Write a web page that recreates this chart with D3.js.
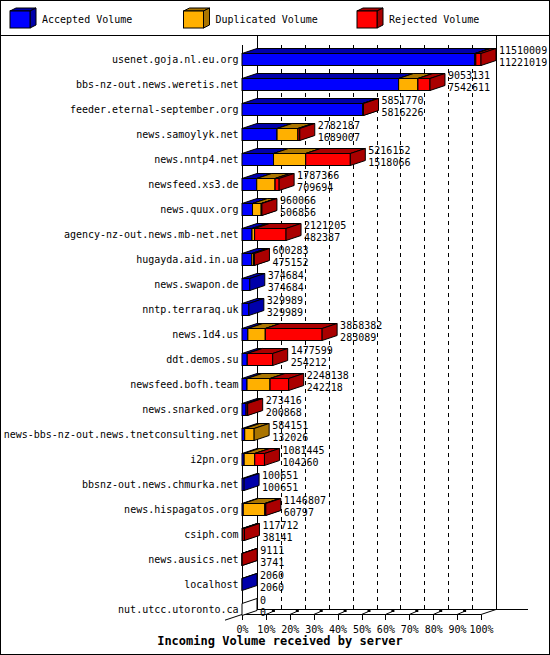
<!DOCTYPE html>
<html>
<head>
<meta charset="utf-8">
<script src="https://cdn.jsdelivr.net/npm/d3@7"></script>
<style>
body { margin: 0; background: #fff; }
text { font-family: "DejaVu Sans Mono", monospace; font-size: 10px; fill: #000; }
</style>
</head>
<body>
<svg id="chart" width="550" height="655"></svg>
<script>
// servers and the two numbers printed next to each bar (total / accepted)
var servers = ["usenet.goja.nl.eu.org", "bbs-nz-out.news.weretis.net", "feeder.eternal-september.org",
    "news.samoylyk.net", "news.nntp4.net", "newsfeed.xs3.de", "news.quux.org",
    "agency-nz-out.news.mb-net.net", "hugayda.aid.in.ua", "news.swapon.de", "nntp.terraraq.uk",
    "news.1d4.us", "ddt.demos.su", "newsfeed.bofh.team", "news.snarked.org",
    "news-bbs-nz-out.news.tnetconsulting.net", "i2pn.org", "bbsnz-out.news.chmurka.net",
    "news.hispagatos.org", "csiph.com", "news.ausics.net", "localhost", "nut.utcc.utoronto.ca"];
var totals = [11510009, 9053131, 5851770, 2782187, 5216152, 1787366, 960066, 2121205, 600283,
    374684, 329989, 3858382, 1477599, 2248138, 273416, 584151, 1081445, 100651, 1146807,
    117712, 9111, 2060, 0];
var accepted = [11221019, 7542611, 5816226, 1689007, 1518066, 709694, 506856, 482387, 475152,
    374684, 329989, 283089, 254212, 242218, 200868, 132026, 104260, 100651, 60797,
    38141, 3741, 2060, 0];
// split of the rest
var duplicated = [40000, 930000, 0, 1007000, 1550000, 885000, 420000, 125000, 80000,
    0, 0, 840000, 0, 1110000, 0, 452125, 510000, 0, 1040000, 0, 0, 0, 0];
var rejected = [248990, 580520, 35544, 86180, 2148086, 192672, 33210, 1513818, 45131,
    0, 0, 2735293, 1223387, 895920, 72548, 0, 467185, 0, 46010, 79571, 5370, 0, 0];

var seriesNames = ["Accepted Volume", "Duplicated Volume", "Rejected Volume"];
var frontColors = ["#0000ff", "#ffb000", "#ff0000"];
var darkColors = ["#0000aa", "#aa7500", "#aa0000"];
var tickPct = [0, 10, 20, 30, 40, 50, 60, 70, 80, 90, 100];

var svg = d3.select("#chart");
var dx = 15, dy = 5, barH = 12;
var floorY = 614.5;

// frame and legend box
svg.append("rect").attr("x", 0.5).attr("y", 0.5).attr("width", 549).attr("height", 654)
    .attr("fill", "none").attr("stroke", "#000");
svg.append("line").attr("x1", 0).attr("x2", 550).attr("y1", 35.5).attr("y2", 35.5)
    .attr("stroke", "#000");

var legend = svg.append("g").attr("id", "legend");
seriesNames.forEach(function(name, i) {
    var lx = 10 + i * 173.5, ly = 11, w = 20, h = 17, ddx = 6, ddy = 3;
    var g = legend.append("g").attr("stroke", "#000").attr("stroke-width", 1);
    g.append("polygon").attr("fill", darkColors[i])
        .attr("points", [[lx, ly], [lx + ddx, ly - ddy], [lx + w + ddx, ly - ddy], [lx + w, ly]].join(" "));
    g.append("polygon").attr("fill", darkColors[i])
        .attr("points", [[lx + w, ly], [lx + w + ddx, ly - ddy], [lx + w + ddx, ly + h - ddy], [lx + w, ly + h]].join(" "));
    g.append("rect").attr("x", lx).attr("y", ly).attr("width", w).attr("height", h)
        .attr("fill", frontColors[i]);
    legend.append("text").attr("x", lx + 32).attr("y", 23).text(name);
});

// scales: bar length is share of the largest total
var x = d3.scaleLinear().domain([0, d3.max(totals)]).range([242, 481]);
var pct = d3.scaleLinear().domain([0, 100]).range([242, 481]);
var y = d3.scaleBand().domain(servers).range([46.5, 621.5]);

// back wall
var wall = svg.append("g").attr("shape-rendering", "crispEdges");
wall.selectAll(".grid").data(tickPct.slice(1, -1)).enter().append("line")
    .attr("x1", function(d) { return Math.round(pct(d) + dx) + 0.5; })
    .attr("x2", function(d) { return Math.round(pct(d) + dx) + 0.5; })
    .attr("y1", 45).attr("y2", floorY - dy)
    .attr("stroke", "#000").attr("stroke-dasharray", "4,4");
[0, 100].forEach(function(d) {
    wall.append("line").attr("x1", Math.round(pct(d) + dx) + 0.5).attr("x2", Math.round(pct(d) + dx) + 0.5)
        .attr("y1", 36).attr("y2", floorY - dy).attr("stroke", "#000");
});

// floor
var floor = svg.append("g").attr("stroke", "#000");
floor.append("line").attr("x1", pct(0) + dx).attr("y1", floorY - dy).attr("x2", 528).attr("y2", floorY - dy)
    .attr("shape-rendering", "crispEdges");
floor.append("line").attr("x1", pct(0)).attr("y1", floorY).attr("x2", pct(100)).attr("y2", floorY)
    .attr("shape-rendering", "crispEdges");
floor.append("line").attr("x1", pct(100)).attr("y1", floorY).attr("x2", pct(100) + dx).attr("y2", floorY - dy);
floor.append("line").attr("x1", pct(0) + dx).attr("y1", floorY - dy).attr("x2", 225).attr("y2", floorY - dy + 32 / 3);
floor.append("line").attr("x1", pct(0) + 0.5).attr("x2", pct(0) + 0.5).attr("y1", 45).attr("y2", floorY)
    .attr("shape-rendering", "crispEdges");

// x axis
var xAxis = svg.append("g").attr("id", "x_axis")
    .attr("transform", "translate(0," + floorY + ")")
    .call(d3.axisBottom(pct).tickValues(tickPct).tickSize(5).tickPadding(6)
        .tickFormat(function(d) { return d + "%"; }));
xAxis.select(".domain").remove();
xAxis.selectAll("text").style("font-family", "'DejaVu Sans Mono', monospace").style("font-size", "10px");
xAxis.selectAll(".tick line").attr("shape-rendering", "crispEdges");
tickPct.slice(1, -1).forEach(function(d) {
    var tx = pct(d);
    svg.append("line").attr("x1", tx).attr("y1", floorY).attr("x2", tx + 7).attr("y2", floorY - 3)
        .attr("stroke", "#000");
    svg.append("rect").attr("x", tx + 6).attr("y", floorY - 4.5).attr("width", 3).attr("height", 2)
        .attr("fill", "#000");
});

// bars
function box(g, x0, x1, top, i) {
    var bot = top + barH;
    g.append("rect").attr("x", x0).attr("y", top).attr("width", x1 - x0).attr("height", barH)
        .attr("fill", frontColors[i]);
    g.append("polygon").attr("fill", darkColors[i])
        .attr("points", [[x0, top], [x0 + dx, top - dy], [x1 + dx, top - dy], [x1, top]].join(" "));
    g.append("polygon").attr("fill", darkColors[i])
        .attr("points", [[x1, top], [x1 + dx, top - dy], [x1 + dx, bot - dy], [x1, bot]].join(" "));
}

var bars = svg.append("g").attr("id", "bars").attr("stroke", "#000").attr("stroke-width", 1);
servers.forEach(function(s, r) {
    var cy = y(s) + y.bandwidth() / 2;
    var top = Math.round(cy - barH / 2) + 0.5;
    var g = bars.append("g");
    var parts = [accepted[r], duplicated[r], rejected[r]];
    var cum = 0;
    if (totals[r] === 0) {
        var x0 = x(0);
        g.append("polygon").attr("fill", "#fff")
            .attr("points", [[x0, top], [x0 + dx, top - dy], [x0 + dx, top + barH - dy], [x0, top + barH]].join(" "));
    }
    parts.forEach(function(v, i) {
        if (v <= 0) return;
        box(g, x(cum), x(cum + v), top, i);
        cum += v;
    });
});

// server labels
svg.append("g").selectAll("text").data(servers).enter().append("text")
    .attr("x", 238.5)
    .attr("y", function(d) { return y(d) + y.bandwidth() / 2 + 4; })
    .attr("text-anchor", "end")
    .text(function(d) { return d; });

// value labels: total over accepted
var vals = svg.append("g");
servers.forEach(function(s, r) {
    var cy = y(s) + y.bandwidth() / 2;
    var tx = x(totals[r]) + dx + 3;
    vals.append("text").attr("x", tx).attr("y", cy - 5).text(totals[r]);
    vals.append("text").attr("x", tx).attr("y", cy + 6.5).text(accepted[r]);
});

// title
svg.append("text").attr("x", 280).attr("y", 645).attr("text-anchor", "middle")
    .style("font-size", "12px").style("font-weight", "bold")
    .text("Incoming Volume received by server");
</script>
</body>
</html>
